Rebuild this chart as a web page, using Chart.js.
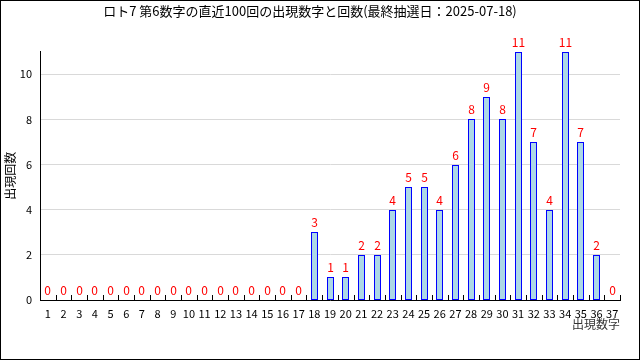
<!DOCTYPE html>
<html>
<head>
<meta charset="utf-8">
<script src="https://cdn.jsdelivr.net/npm/chart.js@4.4.1/dist/chart.umd.min.js"></script>
<style>
  body { margin: 0; background: #fff; }
  canvas { display: block; }
</style>
</head>
<body>
<canvas id="myChart" width="640" height="360"></canvas>
<script>
const ctx = document.getElementById('myChart');

// data
const titleText = 'ロト7 第6数字の直近100回の出現数字と回数(最終抽選日：2025-07-18)';
const numbers = ['1','2','3','4','5','6','7','8','9','10','11','12','13','14','15','16','17','18','19',
  '20','21','22','23','24','25','26','27','28','29','30','31','32','33','34','35','36','37'];
const counts = [0,0,0,0,0,0,0,0,0,0,0,0,0,0,0,0,0,3,1,1,2,2,4,5,5,4,6,8,9,8,11,7,4,11,7,2,0];
const yTicks = [0, 2, 4, 6, 8, 10];

const jpFont = '"Noto Sans CJK JP", "Noto Sans", sans-serif';

// white background + black frame round the picture
const framePlugin = {
    id: 'frame',
    beforeDraw(chart) {
        const c = chart.ctx;
        c.save();
        c.fillStyle = '#fff';
        c.fillRect(0, 0, chart.width, chart.height);
        c.restore();
    },
    afterDraw(chart) {
        const c = chart.ctx;
        c.save();
        c.strokeStyle = '#000';
        c.lineWidth = 1;
        c.strokeRect(0.5, 0.5, chart.width - 1, chart.height - 1);
        c.restore();
    }
};

// snap bars to whole pixels so the 1px borders stay crisp
const snapBars = {
    id: 'snapBars',
    beforeDatasetsDraw(chart) {
        chart.getDatasetMeta(0).data.forEach(bar => {
            bar.x = Math.round(bar.x - 0.5) + 0.5;
            bar.y = Math.round(bar.y);
            bar.base = Math.round(bar.base);
        });
    }
};

// small upward tick marks on the x axis between categories
const xTickMarks = {
    id: 'xTickMarks',
    afterDraw(chart) {
        const x = chart.scales.x;
        const c = chart.ctx;
        const step = x.getPixelForValue(1) - x.getPixelForValue(0);
        const yb = chart.chartArea.bottom;
        c.save();
        c.strokeStyle = '#000';
        c.lineWidth = 1;
        c.beginPath();
        for (let i = 1; i <= numbers.length; i++) {
            const px = Math.round(x.getPixelForValue(i) - step / 2) + 0.5;
            c.moveTo(px, yb);
            c.lineTo(px, yb - 5);
        }
        c.stroke();
        c.restore();
    }
};

// red count numbers above each bar
const valueLabels = {
    id: 'valueLabels',
    afterDatasetsDraw(chart) {
        const c = chart.ctx;
        const meta = chart.getDatasetMeta(0);
        c.save();
        c.fillStyle = '#ff0000';
        c.font = '12px ' + jpFont;
        c.textAlign = 'center';
        c.textBaseline = 'bottom';
        meta.data.forEach((bar, i) => {
            c.fillText(String(counts[i]), bar.x, bar.y - 4);
        });
        c.restore();
    }
};

new Chart(ctx, {
    type: 'bar',
    data: {
        labels: numbers,
        datasets: [{
            data: counts,
            backgroundColor: '#add8e6',
            borderColor: '#0000ff',
            borderWidth: 1,
            borderSkipped: false,
            inflateAmount: 0,
            barThickness: 7,
        }]
    },
    options: {
        responsive: false,
        animation: false,
        layout: { padding: { left: 0, right: 20, top: 0, bottom: 28 } },
        plugins: {
            legend: { display: false },
            tooltip: { enabled: false },
            title: {
                display: true,
                text: titleText,
                color: '#000',
                font: { family: jpFont, size: 13, weight: 'normal' },
                padding: { top: 3, bottom: 33 },
            },
        },
        scales: {
            x: {
                grid: {
                    offset: true,
                    drawOnChartArea: false,
                    drawTicks: false,
                },
                border: { color: '#000', width: 1 },
                ticks: {
                    color: '#000',
                    autoSkip: false,
                    maxRotation: 0,
                    padding: 7,
                    font: { family: jpFont, size: 11 },
                },
                title: {
                    display: true,
                    text: '出現数字',
                    align: 'end',
                    color: '#333',
                    font: { family: jpFont, size: 12 },
                    padding: { top: 0, bottom: 0 },
                },
                afterFit(scale) { scale.height = 32; },
            },
            y: {
                min: 0,
                max: 11,
                afterBuildTicks(scale) {
                    scale.ticks = yTicks.map(v => ({ value: v }));
                },
                grid: {
                    drawTicks: false,
                    color: ctx2 => ctx2.tick && ctx2.tick.value === 0 ? 'rgba(0,0,0,0)' : '#d9d9d9',
                },
                border: { color: '#000', width: 1 },
                ticks: {
                    color: '#000',
                    padding: 8,
                    font: { family: jpFont, size: 11 },
                },
                title: {
                    display: true,
                    text: '出現回数',
                    color: '#000',
                    font: { family: jpFont, size: 12 },
                    padding: { top: 3, bottom: 0 },
                },
                afterFit(scale) { scale.width = 40; },
            }
        }
    },
    plugins: [framePlugin, snapBars, xTickMarks, valueLabels]
});
</script>
</body>
</html>
